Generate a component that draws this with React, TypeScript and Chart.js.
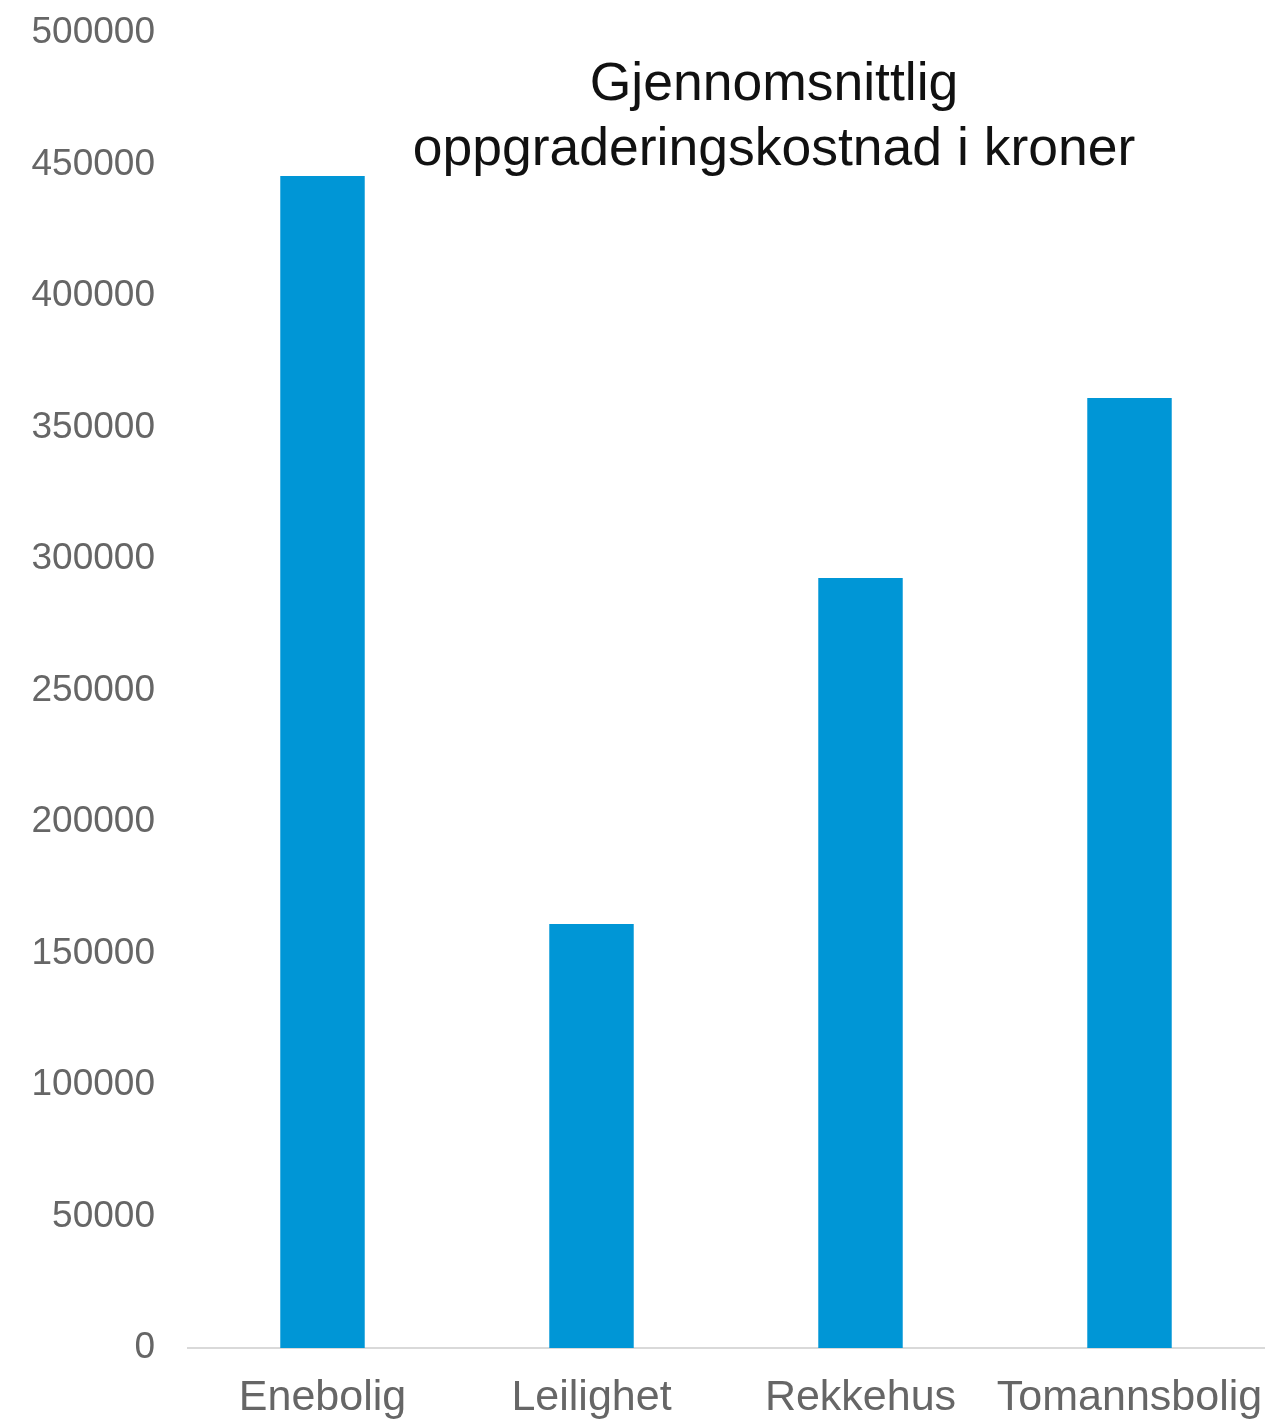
import React, { useEffect, useRef } from "react";
import { Chart, registerables } from "chart.js";

Chart.register(...registerables);

const categories = ["Enebolig", "Leilighet", "Rekkehus", "Tomannsbolig"];
const values = [445600, 161200, 292800, 361200];
const titleLines = ["Gjennomsnittlig", "oppgraderingskostnad i kroner"];
const yMin = 0;
const yMax = 500000;
const yStep = 50000;

const titlePlugin = {
  id: "overlayTitle",
  afterDraw(chart: any) {
    const { ctx, chartArea } = chart;
    const cx = chartArea.left + (chartArea.right - chartArea.left) * 0.5446;
    ctx.save();
    ctx.fillStyle = "#111111";
    ctx.font = "53.5px 'Liberation Sans', Arial, sans-serif";
    ctx.textAlign = "center";
    ctx.textBaseline = "alphabetic";
    titleLines.forEach((line, i) => {
      ctx.fillText(line, cx, chartArea.top + 67 + i * 65);
    });
    ctx.restore();
  },
};

export default function App() {
  const ref = useRef<HTMLCanvasElement | null>(null);
  useEffect(() => {
    document.body.style.margin = "0";
    if (!ref.current) return;
    const chart = new Chart(ref.current, {
      type: "bar",
      data: {
        labels: categories,
        datasets: [
          {
            data: values,
            backgroundColor: "#0096D6",
            borderWidth: 0,
            categoryPercentage: 1,
            barPercentage: 0.314,
          },
        ],
      },
      options: {
        responsive: false,
        animation: false,
        layout: { padding: { top: 33, right: 9, bottom: 0, left: 0 } },
        plugins: {
          legend: { display: false },
          title: { display: false },
          tooltip: { enabled: false },
        },
        scales: {
          x: {
            grid: { display: false, drawTicks: false },
            border: { display: true, color: "#d9d9d9", width: 2 },
            ticks: {
              color: "#666666",
              padding: 24,
              font: { family: "'Liberation Sans', Arial, sans-serif", size: 43 },
              maxRotation: 0,
              autoSkip: false,
            },
            afterFit(scale: any) {
              scale.height = 73;
              scale.paddingLeft = 0;
              scale.paddingRight = 0;
            },
          },
          y: {
            min: yMin,
            max: yMax,
            grid: { display: false, drawTicks: false },
            border: { display: false },
            ticks: {
              stepSize: yStep,
              color: "#666666",
              padding: 33,
              font: { family: "'Liberation Sans', Arial, sans-serif", size: 37 },
              callback: (v: any) => String(v),
            },
            afterFit(scale: any) {
              scale.width = 188;
              scale.paddingTop = 0;
              scale.paddingBottom = 0;
            },
          },
        },
      },
      plugins: [titlePlugin],
    });
    return () => chart.destroy();
  }, []);
  return (
    <div style={{ width: 1273, height: 1421, position: "relative" }}>
      <canvas ref={ref} width={1273} height={1421} style={{ display: "block" }} />
    </div>
  );
}
